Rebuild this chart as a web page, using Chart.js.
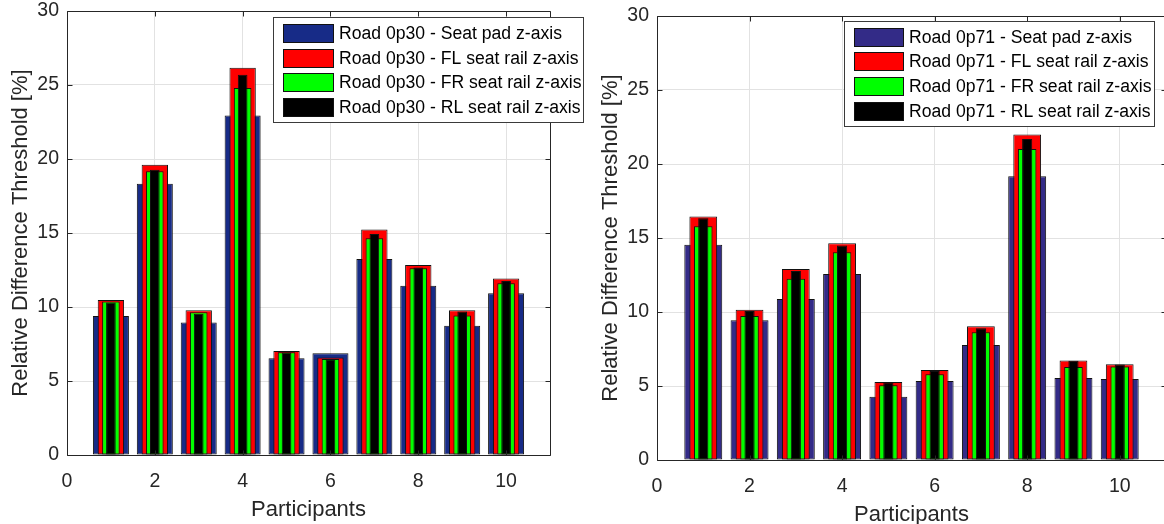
<!DOCTYPE html>
<html>
<head>
<meta charset="utf-8">
<script src="https://cdn.jsdelivr.net/npm/chart.js@4.4.1/dist/chart.umd.min.js"></script>
<style>
html, body { margin: 0; padding: 0; width: 1164px; height: 524px; overflow: hidden; background: #fff; }
.box { position: absolute; top: 0; height: 540px; }
#left { left: 0; width: 590px; }
#right { left: 590px; width: 600px; }
</style>
</head>
<body>
<div class="box" id="left"><canvas id="chartA"></canvas></div>
<div class="box" id="right"><canvas id="chartB"></canvas></div>
<script>
// values
const participants = [1, 2, 3, 4, 5, 6, 7, 8, 9, 10];
const xTicks = [0, 2, 4, 6, 8, 10];
const yTicks = [0, 5, 10, 15, 20, 25, 30];

const seatPad030 = [9.40, 18.32, 8.95, 22.94, 6.53, 6.87, 13.25, 11.43, 8.74, 10.93];
const flRail030 = [10.48, 19.61, 9.78, 26.17, 7.03, 6.58, 15.23, 12.83, 9.78, 11.92];
const frRail030 = [10.37, 19.18, 9.65, 24.79, 6.94, 6.49, 14.65, 12.62, 9.42, 11.61];
const rlRail030 = [10.30, 19.27, 9.55, 25.69, 6.92, 6.47, 14.94, 12.67, 9.69, 11.76];

const seatPad071 = [14.55, 9.44, 10.88, 12.57, 4.28, 5.34, 7.77, 19.17, 5.54, 5.47];
const flRail071 = [16.46, 10.16, 12.91, 14.64, 5.27, 6.08, 9.03, 22.00, 6.73, 6.47];
const frRail071 = [15.79, 9.73, 12.25, 14.03, 5.05, 5.79, 8.63, 21.01, 6.28, 6.31];
const rlRail071 = [16.33, 10.07, 12.77, 14.50, 5.25, 6.01, 8.90, 21.69, 6.70, 6.45];

const FONT = '"Liberation Sans", Arial, Helvetica, sans-serif';
const AXIS = '#262626';

// frame around the axes plus MATLAB style inward ticks
const framePlugin = {
    id: "frame",
    afterDatasetsDraw(chart) {
        const { ctx, chartArea: a, scales: { x, y } } = chart;
        const l = Math.round(a.left) + 0.5, r = Math.round(a.right) + 0.5;
        const t = Math.round(a.top) + 0.5, b = Math.round(a.bottom) + 0.5;
        ctx.save();
        ctx.strokeStyle = AXIS;
        ctx.lineWidth = 1;
        ctx.beginPath();
        x.ticks.forEach((tk) => {
            const px = Math.round(x.getPixelForValue(tk.value)) + 0.5;
            ctx.moveTo(px, b); ctx.lineTo(px, b - 5);
            ctx.moveTo(px, t); ctx.lineTo(px, t + 5);
        });
        y.ticks.forEach((tk) => {
            const py = Math.round(y.getPixelForValue(tk.value)) + 0.5;
            ctx.moveTo(l, py); ctx.lineTo(l + 5, py);
            ctx.moveTo(r, py); ctx.lineTo(r - 5, py);
        });
        ctx.rect(l, t, r - l, b - t);
        ctx.stroke();
        ctx.restore();
    },
};

// boxed legend sitting inside the plot
const boxLegend = {
    id: "boxLegend",
    afterDraw(chart, args, o) {
        const ctx = chart.ctx;
        ctx.save();
        ctx.fillStyle = "#fff";
        ctx.fillRect(o.x, o.y, o.w, o.h);
        ctx.strokeStyle = "#3a3a3a";
        ctx.lineWidth = 1;
        ctx.strokeRect(o.x + 0.5, o.y + 0.5, o.w, o.h);
        ctx.font = o.size + "px " + FONT;
        ctx.textBaseline = "middle";
        chart.data.datasets.forEach((ds, i) => {
            const sx = o.x + o.left, sy = Math.round(o.y + o.top + i * o.rowH);
            ctx.fillStyle = ds.backgroundColor;
            ctx.fillRect(sx, sy, o.swW, o.swH);
            ctx.strokeStyle = "#111";
            ctx.strokeRect(sx + 0.5, sy + 0.5, o.swW, o.swH);
            ctx.fillStyle = "#000";
            ctx.fillText(ds.label, sx + o.swW + 6, sy + o.swH / 2 + 1);
        });
        ctx.restore();
    },
};

const points = (vals) => participants.map((p, i) => ({ x: p, y: vals[i] }));

function makeChart(id, road, series, blue, L) {
    const colors = [blue, "#ff0000", "#00ff00", "#000000"];
    const names = ["Seat pad z-axis", "FL seat rail z-axis", "FR seat rail z-axis", "RL seat rail z-axis"];
    const widths = [0.82, 0.6, 0.4, 0.22];
    return new Chart(document.getElementById(id), {
        type: "bar",
        data: {
            datasets: series.map((vals, i) => ({
                label: "Road " + road + " - " + names[i],
                data: points(vals),
                backgroundColor: colors[i],
                borderColor: "#111",
                borderWidth: 1,
                borderSkipped: false,
                grouped: false,
                barPercentage: widths[i],
                categoryPercentage: 1,
                order: 3 - i,
            })),
        },
        options: {
            responsive: true,
            maintainAspectRatio: false,
            animation: false,
            layout: { padding: { top: L.top, right: L.right, left: 0, bottom: 0 } },
            plugins: {
                legend: { display: false },
                tooltip: { enabled: false },
                boxLegend: L.legend,
            },
            scales: {
                x: {
                    type: "linear",
                    min: 0,
                    max: 11,
                    offset: false,
                    grid: { color: "#e2e2e2", drawTicks: false, offset: false },
                    border: { display: false },
                    afterBuildTicks: (s) => { s.ticks = xTicks.map((v) => ({ value: v })); },
                    ticks: { color: AXIS, padding: L.xTickPad, maxRotation: 0, font: { family: FONT, size: 19.5 } },
                    title: {
                        display: true,
                        text: "Participants",
                        color: AXIS,
                        font: { family: FONT, size: 22 },
                        padding: { top: 0, bottom: L.xTitlePad },
                    },
                    afterFit: (s) => { s.height = L.xH; s.paddingLeft = 0; s.paddingRight = 0; },
                },
                y: {
                    min: 0,
                    max: 30,
                    grid: { color: "#e2e2e2", drawTicks: false },
                    border: { display: false },
                    afterBuildTicks: (s) => { s.ticks = yTicks.map((v) => ({ value: v })); },
                    ticks: { color: AXIS, padding: 8, font: { family: FONT, size: 19.5 } },
                    title: {
                        display: true,
                        text: "Relative Difference Threshold [%]",
                        color: AXIS,
                        font: { family: FONT, size: 22 },
                        padding: { top: 8, bottom: 0 },
                    },
                    afterFit: (s) => { s.width = 67; s.paddingTop = 0; s.paddingBottom = 0; },
                },
            },
        },
        plugins: [framePlugin, boxLegend],
    });
}

makeChart("chartA", "0p30", [seatPad030, flRail030, frRail030, rlRail030], "#172b87", {
    top: 11, right: 40, xH: 85, xTickPad: 15, xTitlePad: 17,
    legend: { x: 273, y: 17, w: 310, h: 105, left: 10, top: 7, rowH: 24.67, swW: 50, swH: 18, size: 17.6 },
});

makeChart("chartB", "0p71", [seatPad071, flRail071, frRail071, rlRail071], "#332b87", {
    top: 16, right: 24, xH: 80, xTickPad: 15, xTitlePad: 12,
    legend: { x: 254, y: 21, w: 310, h: 105, left: 10, top: 6.5, rowH: 24.8, swW: 49, swH: 18, size: 17.6 },
});
</script>
</body>
</html>
